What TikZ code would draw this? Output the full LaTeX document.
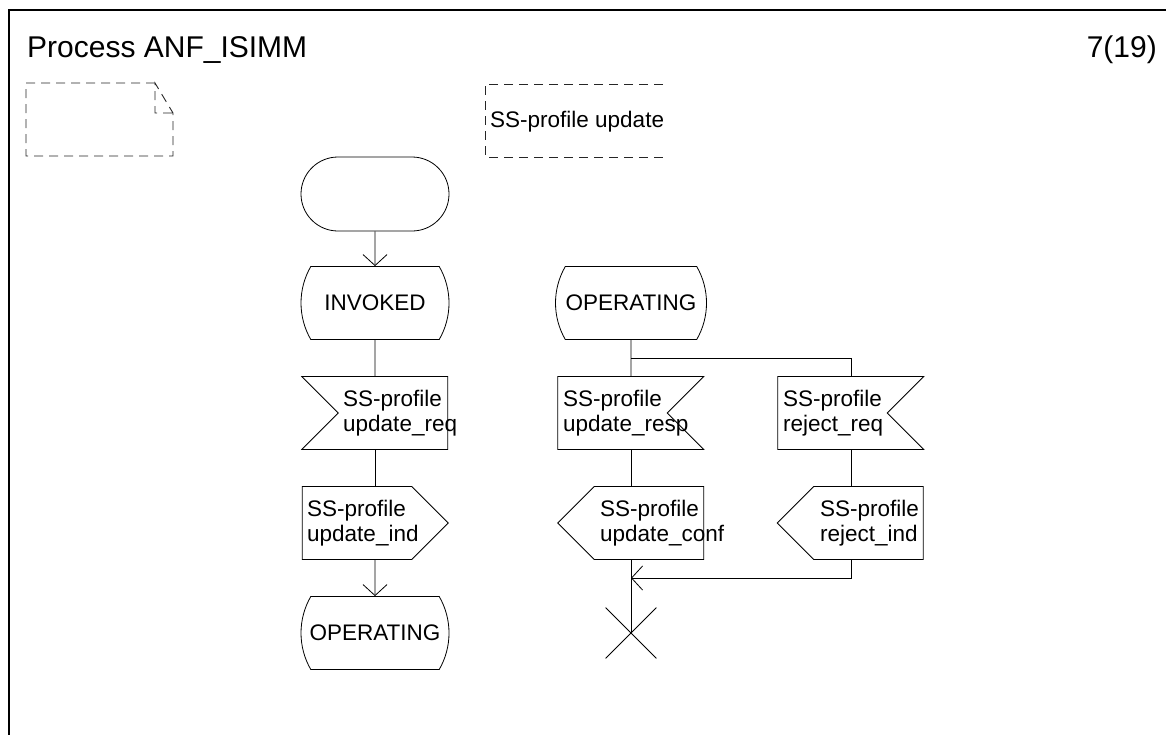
\documentclass[tikz,border=0pt]{standalone}
\usepackage{fontspec}
\setmainfont{Liberation Sans}
\usetikzlibrary{shapes.misc}
\usetikzlibrary{shapes.symbols}
\usetikzlibrary{arrows.meta}

\newcommand{\sdltitlefont}{\fontsize{30}{36}\selectfont}
\newcommand{\sdltextfont}{\fontsize{22.5}{25}\selectfont}

\tikzset{
  sdl/.style={draw, line width=0.8pt, inner sep=0pt, font=\sdltextfont},
  startsym/.style={sdl, rounded rectangle, minimum width=148pt, minimum height=74pt},
  statesym/.style={sdl, rounded rectangle, rounded rectangle arc length=60,
    minimum width=148pt, minimum height=73pt},
  sig/.style={sdl, signal, signal pointer angle=90, signal to=nowhere,
    signal from=nowhere, minimum width=146pt, minimum height=73pt},
  sigtxt/.style={anchor=west, inner sep=0pt, align=left, font=\sdltextfont},
  stopsym/.style={cross out, draw, line width=0.8pt, minimum size=50pt, inner sep=0pt},
  dashline/.style={line width=0.9pt, dash pattern=on 9pt off 6pt, black!85}
}

\begin{document}
\begin{tikzpicture}[x=1pt,y=-1pt,
  flow/.style={line width=0.8pt},
  arr/.style={flow,-{Straight Barb[length=11pt,width=24pt]}}]
\useasboundingbox (0,0) rectangle (1166,734);
\draw[line width=1.2pt] (9,740) |- (1170,10);
\node[anchor=base west,inner sep=0pt,font=\sdltitlefont] (title) at (27,57) {Process ANF\_ISIMM};
\node[anchor=base east,inner sep=0pt,font=\sdltitlefont] (page) at (1157,57) {7(19)};
% text symbol and comment
\draw[dashline] (155,83) -- (26,83) -- (26,156) -- (173,156) -- (173,113) -- (155,83) -- (155,113) -- (173,113);
\node[anchor=base west,inner sep=0pt,font=\sdltextfont] (comment) at (490,127) {SS-profile update};
\draw[dashline] (663,84) -| (485,157) -- (663,157);
% left column
\node[startsym] (start) at (375,194) {};
\node[statesym] (invoked) at (375,303) {INVOKED};
\node[sig, signal from=west] (req) at (393,413) {};
\node[sigtxt] (reqtxt) at (343,413) {SS-profile\\update\_req};
\node[sig, signal to=east] (ind) at (357,523) {};
\node[sigtxt] (indtxt) at (307,523) {SS-profile\\update\_ind};
\node[statesym] (oper) at (375,633) {OPERATING};
\draw[arr] (start) -- (invoked);
\draw[flow] (invoked) -- (invoked |- req.north);
\draw[flow] (invoked |- req.south) -- (invoked |- ind.north);
\draw[arr] (invoked |- ind.south) -- (oper);
% right columns
\node[statesym, minimum width=151pt] (oper2) at (631,303) {OPERATING};
\node[sig, signal from=east] (resp) at (612.5,413) {};
\node[sigtxt] (resptxt) at (563,413) {SS-profile\\update\_resp};
\node[sig, signal to=west] (conf) at (649,523) {};
\node[sigtxt] (conftxt) at (600,523) {SS-profile\\update\_conf};
\node[stopsym] (stop) at (631,633) {};
\node[sig, signal from=east] (rreq) at (832.5,413) {};
\node[sigtxt] (rreqtxt) at (783,413) {SS-profile\\reject\_req};
\node[sig, signal to=west] (rind) at (868.5,523) {};
\node[sigtxt] (rindtxt) at (820,523) {SS-profile\\reject\_ind};
\coordinate (fork) at (631,358);
\coordinate (join) at (631,578);
\draw[flow] (oper2) -- (oper2 |- resp.north);
\draw[flow] (fork) -- (fork -| 851,0) -- (851,0 |- rreq.north);
\draw[flow] (oper2 |- resp.south) -- (oper2 |- conf.north);
\draw[flow] (oper2 |- conf.south) -- (stop.center);
\draw[flow] (851,0 |- rreq.south) -- (851,0 |- rind.north);
\draw[arr] (851,0 |- rind.south) |- (join);
\end{tikzpicture}
\end{document}
